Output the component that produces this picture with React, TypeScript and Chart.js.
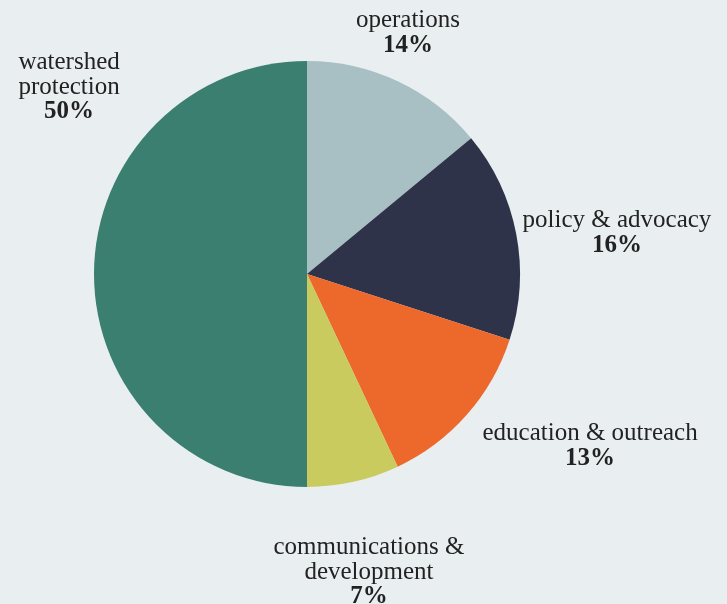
import React, { useEffect, useRef } from "react";
import { Chart, registerables } from "chart.js";

Chart.register(...registerables);

const categories = [
  "operations",
  "policy & advocacy",
  "education & outreach",
  "communications & development",
  "watershed protection",
];
const values = [14, 16, 13, 7, 50];
const labelLines = [
  ["operations"],
  ["policy & advocacy"],
  ["education & outreach"],
  ["communications &", "development"],
  ["watershed", "protection"],
];
const colors = ["#a8bfc4", "#2e3349", "#ec692b", "#c9cb5f", "#3a7f70"];
// label block centres, in units of the pie radius relative to the pie centre
const labelOffsets = [
  [0.474, -1.131],
  [1.455, -0.192],
  [1.329, 0.808],
  [0.291, 1.399],
  [-1.117, -0.878],
];

const BG = "#e9eef1";

const labelPlugin = {
  id: "sliceLabels",
  afterDraw(chart: any) {
    const ctx = chart.ctx;
    const meta = chart.getDatasetMeta(0);
    const data = chart.data.datasets[0].data as number[];
    const total = data.reduce((a: number, b: number) => a + b, 0);
    ctx.save();
    ctx.fillStyle = "#222222";
    ctx.textAlign = "center";
    ctx.textBaseline = "middle";
    const lh = 25;
    meta.data.forEach((arc: any, i: number) => {
      const r = arc.outerRadius;
      const cx = arc.x + labelOffsets[i][0] * r;
      const cy = arc.y + labelOffsets[i][1] * r;
      const lines = labelLines[i];
      const n = lines.length + 1;
      const y0 = cy - ((n - 1) * lh) / 2;
      ctx.font = "25px 'Liberation Serif', serif";
      lines.forEach((t, k) => ctx.fillText(t, cx, y0 + k * lh));
      ctx.font = "bold 25px 'Liberation Serif', serif";
      const pct = Math.round((data[i] / total) * 100) + "%";
      ctx.fillText(pct, cx, y0 + lines.length * lh);
    });
    ctx.restore();
  },
};

export default function App() {
  const ref = useRef<HTMLCanvasElement>(null);
  useEffect(() => {
    document.body.style.margin = "0";
    document.body.style.background = BG;
    const chart = new Chart(ref.current!, {
      type: "pie",
      data: {
        labels: categories,
        datasets: [
          {
            data: values,
            backgroundColor: colors,
            borderWidth: 0,
          },
        ],
      },
      options: {
        animation: false,
        responsive: false,
        events: [],
        layout: { padding: { left: 94, right: 207, top: 61, bottom: 117 } },
        plugins: {
          legend: { display: false },
          tooltip: { enabled: false },
        },
      },
      plugins: [labelPlugin],
    });
    return () => chart.destroy();
  }, []);
  return (
    <div style={{ width: 727, height: 604, background: BG }}>
      <canvas ref={ref} width={727} height={604} />
    </div>
  );
}
